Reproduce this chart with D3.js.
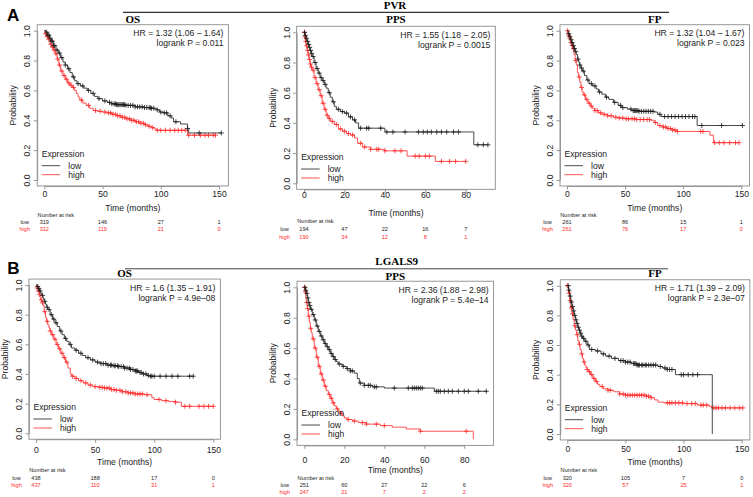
<!DOCTYPE html>
<html><head><meta charset="utf-8">
<script src="https://cdn.jsdelivr.net/npm/d3@7"></script>
<style>
body{margin:0;background:#fff}
svg{display:block}
text{font-family:"Liberation Sans",Arial,Helvetica,sans-serif}
</style>
</head><body>
<svg id="chart" width="753" height="497"></svg>
<script>
// ---------------- DATA ----------------
const genes = ["PVR", "LGALS9"];
const panelLetters = ["A", "B"];
const endpoints = ["OS", "PPS", "FP"];
const groups = ["low", "high"];
const yTicks = [0, 0.2, 0.4, 0.6, 0.8, 1.0];
const xTicksLong = [0, 50, 100, 150];
const xTicksPPS = [0, 20, 40, 60, 80];

const hrLabels = ["HR = 1.32 (1.06 \u2013 1.64)", "HR = 1.55 (1.18 \u2013 2.05)", "HR = 1.32 (1.04 \u2013 1.67)",
                  "HR = 1.6 (1.35 \u2013 1.91)", "HR = 2.36 (1.88 \u2013 2.98)", "HR = 1.71 (1.39 \u2013 2.09)"];
const pLabels = ["logrank P = 0.011", "logrank P = 0.0015", "logrank P = 0.023",
                 "logrank P = 4.9e\u201308", "logrank P = 5.4e\u201314", "logrank P = 2.3e\u201307"];

const riskLow  = [[319,146,27,1],[194,47,22,16,7],[261,86,15,1],[438,188,17,0],[251,60,27,22,6],[320,105,7,0]];
const riskHigh = [[312,119,21,0],[190,34,12,8,1],[261,76,17,0],[437,110,31,1],[247,21,7,2,2],[320,57,25,1]];

// Kaplan-Meier step points [time, survival]
const pvrOsLow = [[0,1],[1.5,0.99],[3,0.97],[4.5,0.95],[6,0.93],[8,0.9],[10,0.87],[12,0.85],[14,0.82],[16,0.79],[18,0.77],[20,0.745],[22,0.72],[24,0.69],[26,0.665],[28,0.645],[31,0.63],[34,0.615],[37,0.6],[40,0.58],[43,0.56],[46,0.545],[50,0.53],[54,0.52],[58,0.51],[62,0.505],[70,0.5],[78,0.49],[86,0.485],[92,0.48],[96,0.47],[99,0.455],[102,0.45],[106,0.43],[109,0.415],[111,0.39],[117,0.375],[123,0.345],[124,0.315]];
const pvrOsLowCens = [2,3,4,5,6,7,8,9,11,13,15,18,21,25,29,33,38,42,47,52,56,58,60,61,62,63,64,65,66,67,68,69,70,72,74,76,78,80,82,84,86,88,90,91,92,94,97,100,103,105,108,113,123,133,152];
const pvrOsHigh = [[0,1],[1,0.98],[2,0.96],[3.5,0.94],[5,0.91],[6.5,0.89],[8,0.87],[9.5,0.845],[11,0.81],[12.5,0.77],[14,0.73],[16,0.7],[18,0.675],[20,0.65],[22,0.635],[24,0.62],[26,0.6],[27.5,0.58],[29,0.555],[30.5,0.535],[33,0.515],[36,0.5],[39,0.48],[42,0.465],[46,0.46],[50,0.455],[54,0.45],[58,0.44],[62,0.43],[66,0.42],[70,0.41],[74,0.4],[78,0.39],[82,0.38],[86,0.37],[89,0.36],[92,0.35],[95,0.34],[97,0.333],[123,0.3]];
const pvrOsHighCens = [1,2.5,4,5.5,7,8.5,10,11.5,13,15,17,19,21,23,25,32,38,44,48,52,55,57,59,61,63,65,67,69,71,73,75,77,79,81,83,85,87,90,93,97,100,104,108,112,115,118,121,124,129,134,138,141,145,147];

const pvrPpsLow = [[0,1],[0.5,0.98],[1,0.96],[1.5,0.94],[2,0.92],[2.5,0.9],[3,0.88],[3.5,0.86],[4,0.84],[5,0.8],[6,0.76],[7,0.73],[8,0.7],[9,0.68],[10,0.655],[11,0.63],[12,0.6],[13,0.57],[14,0.54],[15,0.51],[16,0.49],[18,0.475],[20,0.465],[22,0.44],[24,0.42],[25.5,0.4],[27,0.365],[40,0.34],[84,0.255]];
const pvrPpsLowCens = [0.3,0.7,1.2,1.8,2.3,2.8,3.3,3.8,4.5,5.5,6.5,7.5,8.5,9.5,10.5,12.5,14.5,17,19,21,23,25,28,31,32,38,41,44,50,56.6,59,61,63,65.7,68,70.6,74,76.4,86,88.7,91];
const pvrPpsHigh = [[0,1],[0.3,0.97],[0.7,0.94],[1,0.91],[1.5,0.88],[2,0.85],[2.5,0.82],[3,0.79],[3.5,0.77],[4,0.75],[5,0.7],[6,0.66],[7,0.62],[8,0.58],[9,0.53],[10,0.49],[11,0.45],[12,0.43],[13,0.41],[15,0.39],[17,0.36],[19,0.345],[21,0.33],[23,0.32],[25,0.3],[26.5,0.265],[29,0.24],[33,0.225],[40,0.215],[51,0.18],[65,0.145]];
const pvrPpsHighCens = [0.2,0.5,0.9,1.3,1.8,2.2,2.7,3.2,3.7,4.5,5.5,6.5,7.5,8.5,9.5,10.5,11.5,12.5,14,16,18,20,22,24,28,30,33,36,37,40,45,48,55,57,60,62,68,72,75,80];

const pvrFpLow = [[0,1],[1,0.98],[2,0.96],[3,0.94],[4,0.92],[5,0.9],[6,0.88],[7,0.86],[8,0.84],[9,0.81],[10,0.79],[11,0.77],[12,0.75],[13,0.73],[15,0.7],[17,0.67],[19,0.645],[22,0.63],[25,0.61],[27,0.59],[30,0.575],[33,0.555],[36,0.54],[40,0.52],[44,0.5],[47,0.485],[52,0.475],[56,0.465],[62,0.46],[75,0.455],[78,0.44],[81,0.425],[112,0.365]];
const pvrFpLowCens = [1.5,2.5,3.5,4.5,5.5,6.5,7.5,9.5,11,12.5,14,18,21,24,28,34,41,46,48,55,57,58,59,60,61,62,64,66,68,70,72,74,80,84,87,90,93,96,99,102,105,108,110,116,133,151];
const pvrFpHigh = [[0,1],[1,0.97],[2,0.95],[3,0.92],[4,0.9],[5,0.88],[6,0.84],[7,0.8],[8,0.77],[9,0.72],[10,0.69],[11,0.655],[12,0.62],[13,0.59],[14,0.57],[16,0.54],[18,0.515],[20,0.495],[22,0.48],[24,0.465],[27,0.45],[30,0.44],[35,0.43],[40,0.42],[45,0.415],[50,0.41],[60,0.405],[72,0.4],[75,0.385],[78,0.365],[82,0.355],[86,0.345],[90,0.335],[95,0.325],[123,0.3],[126,0.25]];
const pvrFpHighCens = [0.5,1.5,2.5,3.5,4.5,5.5,7.5,10.5,12.5,15,17,19,21,24,26,29,32,35,38,42,45,48,51,53,56,58,60,63,66,69,71,76,80,83,85,87,89,91,93,95,115,117,127,131,135,140,145,148];

const lgOsLow = [[0,1],[1,0.99],[2,0.975],[3,0.96],[4,0.945],[5,0.93],[6,0.91],[7,0.89],[8,0.87],[9,0.85],[10,0.835],[12,0.8],[14,0.77],[16,0.745],[18,0.72],[20,0.69],[22,0.665],[24,0.64],[26,0.62],[28,0.6],[30,0.575],[33,0.56],[36,0.54],[39,0.525],[42,0.51],[46,0.495],[50,0.48],[55,0.47],[60,0.46],[65,0.455],[70,0.45],[75,0.44],[80,0.43],[84,0.42],[87,0.41],[90,0.4],[94,0.39],[96,0.385]];
const lgOsLowCens = [1.5,2.5,3.5,5.5,7.5,9.5,11,13,15,17,21,25,29,34,38,44,48,52,55,57,59,61,63,64,66,67,69,70,72,74,75,77,79,80,82,84,85,86,88,89,91,93,95,97,98,100,105,110,115,120,130,133];
const lgOsHigh = [[0,1],[1,0.98],[2,0.96],[3,0.935],[4,0.9],[5,0.88],[6,0.86],[7,0.82],[8,0.78],[9,0.755],[10,0.73],[11,0.71],[12,0.69],[13,0.665],[15,0.635],[17,0.6],[19,0.57],[21,0.54],[23,0.51],[25,0.48],[27,0.44],[29,0.4],[30,0.385],[33,0.37],[36,0.355],[40,0.34],[44,0.325],[48,0.315],[53,0.31],[58,0.305],[63,0.295],[68,0.29],[73,0.28],[78,0.272],[84,0.265],[92,0.26],[98,0.24],[100,0.228],[106,0.22],[112,0.215],[118,0.21],[123,0.182]];
const lgOsHighCens = [1,2,3,4.5,5.5,7.5,9.5,12,14,16,18,20,22,24,26,31,34,38,42,46,50,54,56,58,60,62,64,66,68,71,73,76,78,80,82,84,86,88,90,94,104,110,118,126,130,138,142,146,150];

const lgPpsLow = [[0,1],[0.5,0.98],[1,0.96],[1.5,0.93],[2,0.9],[2.5,0.88],[3,0.855],[4,0.82],[5,0.785],[6,0.745],[7,0.71],[8,0.68],[9,0.655],[10,0.63],[11,0.61],[12,0.59],[13,0.565],[14,0.545],[15,0.525],[16,0.51],[17,0.495],[19,0.48],[21,0.465],[23,0.45],[25,0.435],[26.5,0.4],[27.5,0.37],[30,0.355],[34,0.345],[40,0.337],[65,0.316]];
const lgPpsLowCens = [0.3,0.8,1.3,1.8,2.3,2.8,3.5,4.5,5.5,6.5,7.5,8.5,9.5,10.5,11.5,12.5,13.5,14.5,15.5,17.5,19.5,21.5,23,24,28,30,32,33,35,36,45,52,54,55,56,57,58,59,66,67,68,70,72,74,77,80,82,87,91];
const lgPpsHigh = [[0,1],[0.3,0.97],[0.7,0.93],[1,0.9],[1.5,0.86],[2,0.81],[2.5,0.77],[3,0.73],[3.5,0.7],[4,0.66],[5,0.6],[6,0.54],[7,0.48],[8,0.43],[9,0.39],[10,0.35],[11,0.32],[12,0.295],[13,0.27],[14,0.24],[15,0.22],[16,0.2],[17,0.185],[18,0.17],[19,0.155],[20,0.14],[21.5,0.13],[24,0.12],[27,0.11],[31,0.1],[38,0.09],[44,0.08],[51,0.068],[58,0.053],[84.5,0]];
const lgPpsHighCens = [0.2,0.6,1.2,1.7,2.3,3.2,4.5,5.5,6.5,7.5,8.5,9.5,10.5,12.5,13.5,14.5,16.5,18.5,22,25,29,31,36,40,58,81];

const lgFpLow = [[0,1],[1,0.97],[2,0.93],[3,0.89],[4,0.86],[5,0.83],[6,0.8],[7,0.77],[8,0.745],[9,0.72],[10,0.7],[11,0.68],[12,0.66],[13,0.645],[15,0.625],[17,0.6],[19,0.57],[24,0.56],[29,0.54],[33,0.525],[38,0.51],[44,0.495],[50,0.485],[55,0.475],[60,0.465],[78,0.455],[82,0.445],[86,0.435],[93,0.4],[124.7,0]];
const lgFpLowCens = [0.8,1.5,2.5,3.5,4.5,5.5,6.5,7.5,8.5,9.5,10.5,11.5,12.5,14,16,18,21,26,31,36,41,46,48,50,52,54,57,58,59,60,61,62,64,65,67,68,70,72,74,76,80,84,86,88,90,98,100,104,108,112];
const lgFpHigh = [[0,1],[1,0.95],[2,0.9],[3,0.85],[4,0.81],[5,0.77],[6,0.73],[7,0.7],[8,0.67],[9,0.63],[10,0.605],[11,0.57],[12,0.54],[13,0.51],[14,0.485],[15,0.465],[16,0.45],[17,0.435],[18,0.42],[20,0.4],[22,0.375],[24,0.355],[26,0.335],[28,0.32],[31,0.305],[35,0.295],[40,0.285],[45,0.27],[50,0.262],[68,0.255],[72,0.245],[75,0.23],[78,0.215],[83,0.21],[100,0.205],[112,0.195],[122,0.187],[124,0.176]];
const lgFpHighCens = [0,1.5,2.5,3.5,4.5,6.5,8.5,10.5,12.5,14.5,17,19,21,23,25,30,35,37,45,48,50,52,54,56,58,60,62,64,66,68,70,72,86,88,90,93,96,99,103,107,110,115,117,120,126,128,130,133,136,140,144,148,151];

// ---------------- ASSEMBLY ----------------
const panels = [
  {gene:0, ep:0, ticks:xTicksLong, low:pvrOsLow,  lowC:pvrOsLowCens,  high:pvrOsHigh,  highC:pvrOsHighCens},
  {gene:0, ep:1, ticks:xTicksPPS,  low:pvrPpsLow, lowC:pvrPpsLowCens, high:pvrPpsHigh, highC:pvrPpsHighCens},
  {gene:0, ep:2, ticks:xTicksLong, low:pvrFpLow,  lowC:pvrFpLowCens,  high:pvrFpHigh,  highC:pvrFpHighCens},
  {gene:1, ep:0, ticks:xTicksLong, low:lgOsLow,   lowC:lgOsLowCens,   high:lgOsHigh,   highC:lgOsHighCens},
  {gene:1, ep:1, ticks:xTicksPPS,  low:lgPpsLow,  lowC:lgPpsLowCens,  high:lgPpsHigh,  highC:lgPpsHighCens},
  {gene:1, ep:2, ticks:xTicksLong, low:lgFpLow,   lowC:lgFpLowCens,   high:lgFpHigh,   highC:lgFpHighCens}
];

// layout (pixel placement of each panel)
const layout = [
  {x0:44.3,  xt:219,   y1:30.7,  y0:180,   titleY:22.7, tickY:197,   xlabY:210.5, riskY:[217,223.5,231]},
  {x0:304,   xt:465.7, y1:32.3,  y0:183.3, titleY:22.7, tickY:198.5, xlabY:216.3, riskY:[222.7,231.4,239.4]},
  {x0:567,   xt:741.3, y1:30.7,  y0:180,   titleY:22.7, tickY:197,   xlabY:210.5, riskY:[217.3,223.7,231.3]},
  {x0:36,    xt:213.3, y1:285,   y0:433.3, titleY:277,  tickY:453.5, xlabY:465.3, riskY:[472.3,480,487.3]},
  {x0:304.3, xt:464.3, y1:287.3, y0:439.3, titleY:280,  tickY:463.3, xlabY:473.3, riskY:[480,486.7,493.5]},
  {x0:567.3, xt:741.7, y1:285.7, y0:434,   titleY:277.3,tickY:452.5, xlabY:465.3, riskY:[472.3,480,487.3]}
];
const geneHeader = [
  {x:395, y:8.5, lineY:12.3, lx0:123, lx1:669, letterX:7, letterY:20.7},
  {x:396.7, y:265.3, lineY:268.8, lx0:125, lx1:668, letterX:7.3, letterY:274}
];

const COL = {low:"#1a1a1a", high:"#ff2a2a"};
const AXIS = "#8c8c8c";
const FS = 8.6;

const svg = d3.select("#chart");

// gene headers
genes.forEach((g, gi) => {
  const H = geneHeader[gi];
  svg.append("text").attr("x", H.letterX).attr("y", H.letterY)
    .attr("font-size", 17).attr("font-weight", "bold").attr("fill", "#000").text(panelLetters[gi]);
  svg.append("line").attr("x1", H.lx0).attr("x2", H.lx1).attr("y1", H.lineY).attr("y2", H.lineY)
    .attr("stroke", gi === 0 ? "#000" : "#444").attr("stroke-width", 1);
  svg.append("text").attr("x", H.x).attr("y", H.y).attr("text-anchor", "middle")
    .style("font-family", '"Liberation Serif","Times New Roman",serif')
    .attr("font-size", 11).attr("font-weight", "bold").attr("fill", "#000").text(g);
});

function survAt(curve, t) {
  const i = d3.bisector(d => d[0]).right(curve, t) - 1;
  return curve[Math.max(0, i)][1];
}

panels.forEach((P, pi) => {
  const L = layout[pi];
  const g = svg.append("g");
  const tmax = d3.max([...P.low.map(d => d[0]), ...P.lowC, ...P.high.map(d => d[0]), ...P.highC]);
  const lastTick = P.ticks[P.ticks.length - 1];
  const x = d3.scaleLinear().domain([0, lastTick]).range([L.x0, L.xt]);
  const y = d3.scaleLinear().domain([0, 1]).range([L.y0, L.y1]);
  const bx0 = x(-0.04 * tmax), bx1 = x(1.04 * tmax), by0 = y(-0.04), by1 = y(1.04);

  // box
  g.append("rect").attr("x", bx0).attr("y", by1).attr("width", bx1 - bx0).attr("height", by0 - by1)
    .attr("fill", "none").attr("stroke", AXIS).attr("stroke-width", 0.9);

  // x axis
  const xa = g.append("g").attr("transform", `translate(0,${by0})`)
    .call(d3.axisBottom(x).tickValues(P.ticks).tickSize(3.5).tickSizeOuter(0).tickPadding(2).tickFormat(d3.format("d")));
  xa.select(".domain").attr("stroke", AXIS).attr("stroke-width", 0.9);
  xa.selectAll(".tick line").attr("stroke", AXIS).attr("stroke-width", 0.9);
  xa.selectAll(".tick text").attr("font-size", FS).attr("fill", "#222")
    .attr("y", L.tickY - by0).attr("dy", 0);
  xa.attr("font-family", null).attr("font-size", null);

  // y axis
  const ya = g.append("g").attr("transform", `translate(${bx0},0)`)
    .call(d3.axisLeft(y).tickValues(yTicks).tickSize(3.5).tickSizeOuter(0).tickFormat(d3.format(".1f")));
  ya.select(".domain").attr("stroke", AXIS).attr("stroke-width", 0.9);
  ya.selectAll(".tick line").attr("stroke", AXIS).attr("stroke-width", 0.9);
  ya.selectAll(".tick text").attr("font-size", FS).attr("fill", "#222")
    .attr("x", 0).attr("dy", 0).attr("text-anchor", "middle")
    .attr("transform", "translate(-7,0) rotate(-90)");
  ya.attr("font-family", null).attr("font-size", null);

  // axis titles
  g.append("text").attr("x", (bx0 + bx1) / 2).attr("y", L.xlabY)
    .attr("text-anchor", "middle").attr("font-size", FS).attr("fill", "#222").text("Time (months)");
  g.append("text").attr("transform", `translate(${L.x0 - 31.5},${(L.y0 + L.y1) / 2}) rotate(-90)`)
    .attr("text-anchor", "middle").attr("dy", "0.35em").attr("font-size", FS).attr("fill", "#222").text("Probability");

  // endpoint title
  g.append("text").attr("x", (bx0 + bx1) / 2).attr("y", L.titleY).attr("text-anchor", "middle")
    .style("font-family", '"Liberation Serif","Times New Roman",serif')
    .attr("font-size", 11).attr("font-weight", "bold").attr("fill", "#000").text(endpoints[P.ep]);

  // curves
  const line = d3.line().x(d => x(d[0])).y(d => y(d[1])).curve(d3.curveStepAfter);
  [["high", P.high, P.highC], ["low", P.low, P.lowC]].forEach(([grp, curve, cens]) => {
    const tEnd = d3.max([curve[curve.length - 1][0], d3.max(cens)]);
    const pts = curve.slice();
    if (tEnd > pts[pts.length - 1][0]) pts.push([tEnd, pts[pts.length - 1][1]]);
    g.append("path").attr("d", line(pts)).attr("fill", "none")
      .attr("stroke", COL[grp]).attr("stroke-width", 0.8);
    const s = 2.5;
    g.append("path").attr("d", cens.map(t => {
        const cx = x(t), cy = y(survAt(curve, t));
        return `M${cx - s},${cy}h${2 * s}M${cx},${cy - s}v${2 * s}`;
      }).join(""))
      .attr("fill", "none").attr("stroke", COL[grp]).attr("stroke-width", 0.8);
  });

  // HR / p text
  g.append("text").attr("x", bx1 - 5).attr("y", L.y1 + 5.5).attr("text-anchor", "end")
    .attr("font-size", FS).attr("fill", "#222").text(hrLabels[pi]);
  g.append("text").attr("x", bx1 - 5).attr("y", L.y1 + 15.5).attr("text-anchor", "end")
    .attr("font-size", FS).attr("fill", "#222").text(pLabels[pi]);

  // legend
  const lx = bx0 + 4.5;
  g.append("text").attr("x", lx).attr("y", L.y0 - 23.5).attr("font-size", FS).attr("fill", "#222").text("Expression");
  groups.forEach((grp, k) => {
    const ly = L.y0 - 14.3 + k * 9;
    g.append("line").attr("x1", lx).attr("x2", lx + 18.5).attr("y1", ly).attr("y2", ly)
      .attr("stroke", COL[grp]).attr("stroke-width", 0.8);
    g.append("text").attr("x", lx + 26.5).attr("y", ly + 3).attr("font-size", FS).attr("fill", "#222").text(grp);
  });

  // number at risk
  g.append("text").attr("x", L.x0 - 6.7).attr("y", L.riskY[0]).attr("font-size", 5.6).attr("fill", "#222").text("Number at risk");
  [["low", riskLow[pi]], ["high", riskHigh[pi]]].forEach(([grp, vals], k) => {
    const ry = L.riskY[k + 1];
    const c = grp === "low" ? "#222" : COL.high;
    g.append("text").attr("x", L.x0 - 19.5).attr("y", ry).attr("text-anchor", "middle")
      .attr("font-size", 5.6).attr("fill", c).text(grp);
    g.selectAll(null).data(vals).enter().append("text")
      .attr("x", (d, i) => x(P.ticks[i])).attr("y", ry).attr("text-anchor", "middle")
      .attr("font-size", 5.6).attr("fill", c).text(d => d);
  });
});
</script>
</body></html>
